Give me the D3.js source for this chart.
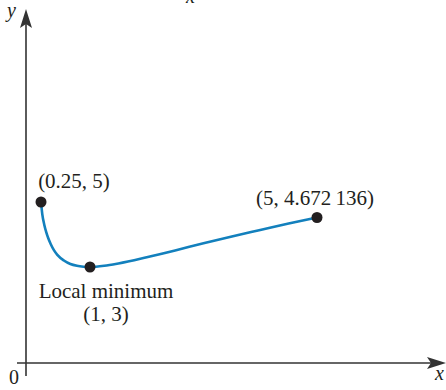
<!DOCTYPE html>
<html>
<head>
<meta charset="utf-8">
<script src="https://cdn.jsdelivr.net/npm/d3@7"></script>
<style>
  body { margin: 0; background: #fff; }
  svg text { font-family: "Liberation Serif", "Times New Roman", serif; fill: #231f20; }
</style>
</head>
<body>
<div id="chart"></div>
<script>
var w = 446;
var h = 390;

// curve samples
var xs = [0.25, 0.27, 0.3, 0.33, 0.36, 0.4, 0.45, 0.5, 0.6, 0.7, 0.8, 0.9, 1,
          1.25, 1.5, 2, 2.5, 3, 3.5, 4, 4.5, 5];
var ys = [5, 4.74, 4.43, 4.18, 3.98, 3.77, 3.56, 3.41, 3.22, 3.10, 3.04, 3.01, 3,
          3.04, 3.12, 3.33, 3.56, 3.80, 4.03, 4.25, 4.47, 4.672136];

// marked points
var pointX = [0.25, 1, 5];
var pointY = [5, 3, 4.672136];
var pointLabels = [["(0.25, 5)"], ["Local minimum", "(1, 3)"], ["(5, 4.672\u2009136)"]];

var svg = d3.select("#chart")
            .append("svg")
            .attr("width", w)
            .attr("height", h);

// the drawing is not to scale, so the scales are piecewise
var xScale = d3.scaleLinear()
    .domain([0, 0.25, 1, 5])
    .range([26, 41, 90, 317]);
var yScale = d3.scaleLinear()
    .domain([0, 3, 4.672136, 5])
    .range([363, 267, 217.5, 202]);

var ink = "#333";

// axes
svg.append("line")
    .attr("x1", 17).attr("x2", 432)
    .attr("y1", yScale(0)).attr("y2", yScale(0))
    .attr("stroke", ink).attr("stroke-width", 1.6);
svg.append("line")
    .attr("x1", xScale(0)).attr("x2", xScale(0))
    .attr("y1", 376).attr("y2", 20)
    .attr("stroke", ink).attr("stroke-width", 1.6);

// arrow heads
var x0 = xScale(0), y0 = yScale(0);
svg.append("path")
    .attr("d", "M446," + y0 + " L427," + (y0 - 6) + " L431," + y0 + " L427," + (y0 + 6) + " Z")
    .attr("fill", ink);
svg.append("path")
    .attr("d", "M" + x0 + ",9 L" + (x0 - 6) + ",28 L" + x0 + ",24 L" + (x0 + 6) + ",28 Z")
    .attr("fill", ink);

// axis labels
svg.append("text").attr("x", 7).attr("y", 17)
    .style("font-style", "italic").style("font-size", "20px").text("y");
svg.append("text").attr("x", 435).attr("y", 380)
    .style("font-style", "italic").style("font-size", "20px").text("x");
svg.append("text").attr("x", 9).attr("y", 384)
    .style("font-size", "20px").text("0");
// cut-off label at the top edge
svg.append("text").attr("x", 186).attr("y", 3)
    .style("font-style", "italic").style("font-size", "20px").text("x");

// curve
var line = d3.line()
    .x((d, i) => xScale(xs[i]))
    .y((d, i) => yScale(ys[i]))
    .curve(d3.curveMonotoneX);

svg.append("path")
    .datum(xs)
    .attr("d", line)
    .attr("fill", "none")
    .attr("stroke", "#1380bd")
    .attr("stroke-width", 2.6);

// dots
svg.selectAll(".dot")
    .data(pointX)
    .enter()
    .append("circle")
    .attr("class", "dot")
    .attr("cx", (d) => xScale(d))
    .attr("cy", (d, i) => yScale(pointY[i]))
    .attr("r", 5.5)
    .attr("fill", "#231f20");

// labels
var labelPos = [[74, 188, 23], [106, 298, 23], [315, 205, 23]];
pointLabels.forEach((lines, i) => {
    lines.forEach((t, j) => {
        svg.append("text")
            .attr("x", labelPos[i][0])
            .attr("y", labelPos[i][1] + j * labelPos[i][2])
            .attr("text-anchor", "middle")
            .style("font-size", "21px")
            .text(t);
    });
});
</script>
</body>
</html>
